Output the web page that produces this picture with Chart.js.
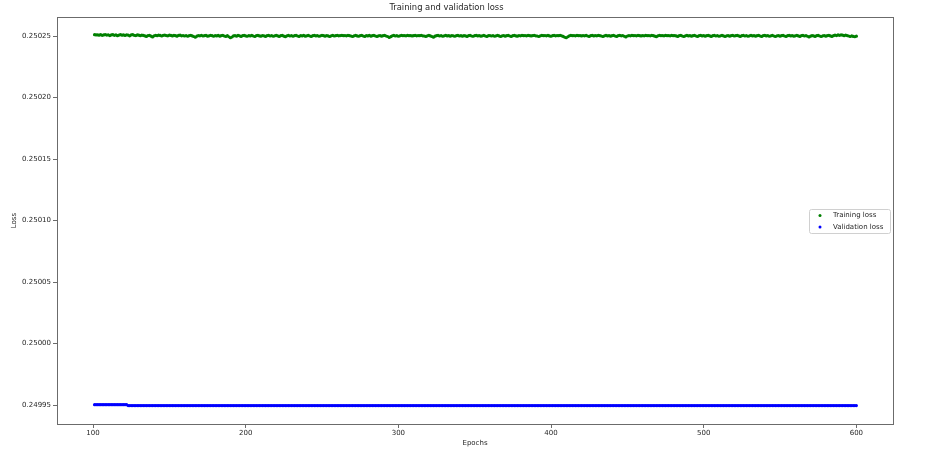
<!DOCTYPE html>
<html>
<head>
<meta charset="utf-8">
<title>Training and validation loss</title>
<script src="https://cdn.jsdelivr.net/npm/chart.js@4.4.1/dist/chart.umd.min.js"></script>
<style>
  html, body { margin: 0; padding: 0; background: #fff; }
  #wrap { width: 936px; height: 449px; }
</style>
</head>
<body>
<div id="wrap"><canvas id="chart" width="936" height="449"></canvas></div>
<script>
// Loss per epoch (epochs 101 .. 600)
const firstEpoch = 101;

const trainLoss = [
  0.2502511, 0.2502509, 0.2502510, 0.2502507, 0.2502511, 0.2502506, 0.2502509, 0.2502512, 0.2502508, 0.2502510, 0.2502504, 0.2502509, 0.2502511, 0.2502506, 0.2502510, 0.2502503, 0.2502508, 0.2502511, 0.2502507, 0.2502509,
  0.2502505, 0.2502510, 0.2502508, 0.2502502, 0.2502509, 0.2502511, 0.2502506, 0.2502504, 0.2502509, 0.2502507, 0.2502503, 0.2502508, 0.2502505, 0.2502501, 0.2502497, 0.2502504, 0.2502506, 0.2502499, 0.2502493, 0.2502502,
  0.2502506, 0.2502503, 0.2502507, 0.2502505, 0.2502500, 0.2502506, 0.2502508, 0.2502504, 0.2502502, 0.2502507, 0.2502505, 0.2502501, 0.2502506, 0.2502503, 0.2502499, 0.2502505, 0.2502507, 0.2502502, 0.2502504, 0.2502500,
  0.2502504, 0.2502498, 0.2502503, 0.2502506, 0.2502501, 0.2502496, 0.2502490, 0.2502499, 0.2502504, 0.2502502, 0.2502506, 0.2502500, 0.2502503, 0.2502505, 0.2502499, 0.2502502, 0.2502506, 0.2502503, 0.2502498, 0.2502504,
  0.2502501, 0.2502505, 0.2502499, 0.2502503, 0.2502506, 0.2502500, 0.2502497, 0.2502503, 0.2502494, 0.2502486, 0.2502492, 0.2502501, 0.2502504, 0.2502499, 0.2502505, 0.2502502, 0.2502497, 0.2502503, 0.2502506, 0.2502501,
  0.2502498, 0.2502504, 0.2502501, 0.2502505, 0.2502500, 0.2502496, 0.2502503, 0.2502506, 0.2502501, 0.2502499, 0.2502504, 0.2502502, 0.2502497, 0.2502503, 0.2502505, 0.2502500, 0.2502504, 0.2502498, 0.2502502, 0.2502506,
  0.2502501, 0.2502497, 0.2502503, 0.2502505, 0.2502499, 0.2502495, 0.2502502, 0.2502505, 0.2502500, 0.2502504, 0.2502498, 0.2502503, 0.2502506, 0.2502500, 0.2502497, 0.2502504, 0.2502501, 0.2502505, 0.2502499, 0.2502502,
  0.2502506, 0.2502500, 0.2502497, 0.2502503, 0.2502505, 0.2502501, 0.2502504, 0.2502498, 0.2502502, 0.2502506, 0.2502503, 0.2502499, 0.2502504, 0.2502501, 0.2502496, 0.2502502, 0.2502505, 0.2502500, 0.2502503, 0.2502506,
  0.2502502, 0.2502504, 0.2502505, 0.2502503, 0.2502504, 0.2502502, 0.2502505, 0.2502503, 0.2502500, 0.2502496, 0.2502502, 0.2502505, 0.2502501, 0.2502498, 0.2502503, 0.2502505, 0.2502500, 0.2502497, 0.2502503, 0.2502501,
  0.2502505, 0.2502499, 0.2502503, 0.2502506, 0.2502500, 0.2502497, 0.2502502, 0.2502504, 0.2502499, 0.2502503, 0.2502505, 0.2502500, 0.2502496, 0.2502488, 0.2502495, 0.2502502, 0.2502505, 0.2502500, 0.2502503, 0.2502498,
  0.2502502, 0.2502505, 0.2502503, 0.2502504, 0.2502502, 0.2502505, 0.2502503, 0.2502504, 0.2502501, 0.2502503, 0.2502505, 0.2502502, 0.2502504, 0.2502503, 0.2502505, 0.2502502, 0.2502500, 0.2502497, 0.2502502, 0.2502505,
  0.2502501, 0.2502496, 0.2502491, 0.2502499, 0.2502503, 0.2502505, 0.2502500, 0.2502504, 0.2502498, 0.2502502, 0.2502505, 0.2502501, 0.2502503, 0.2502499, 0.2502504, 0.2502502, 0.2502498, 0.2502503, 0.2502505, 0.2502500,
  0.2502503, 0.2502499, 0.2502504, 0.2502501, 0.2502497, 0.2502503, 0.2502505, 0.2502500, 0.2502498, 0.2502503, 0.2502505, 0.2502501, 0.2502504, 0.2502499, 0.2502502, 0.2502505, 0.2502500, 0.2502497, 0.2502503, 0.2502504,
  0.2502500, 0.2502504, 0.2502498, 0.2502502, 0.2502505, 0.2502501, 0.2502496, 0.2502502, 0.2502504, 0.2502499, 0.2502503, 0.2502505, 0.2502500, 0.2502497, 0.2502503, 0.2502505, 0.2502501, 0.2502499, 0.2502504, 0.2502502,
  0.2502505, 0.2502503, 0.2502504, 0.2502502, 0.2502505, 0.2502503, 0.2502501, 0.2502504, 0.2502505, 0.2502502, 0.2502500, 0.2502496, 0.2502502, 0.2502505, 0.2502503, 0.2502504, 0.2502502, 0.2502505, 0.2502501, 0.2502498,
  0.2502503, 0.2502505, 0.2502502, 0.2502504, 0.2502503, 0.2502505, 0.2502502, 0.2502497, 0.2502490, 0.2502486, 0.2502494, 0.2502502, 0.2502505, 0.2502503, 0.2502504, 0.2502502, 0.2502505, 0.2502503, 0.2502504, 0.2502501,
  0.2502504, 0.2502502, 0.2502505, 0.2502500, 0.2502497, 0.2502503, 0.2502505, 0.2502501, 0.2502504, 0.2502502, 0.2502505, 0.2502503, 0.2502500, 0.2502496, 0.2502502, 0.2502505, 0.2502501, 0.2502504, 0.2502499, 0.2502503,
  0.2502505, 0.2502500, 0.2502497, 0.2502503, 0.2502505, 0.2502502, 0.2502504, 0.2502498, 0.2502493, 0.2502500, 0.2502504, 0.2502502, 0.2502505, 0.2502503, 0.2502504, 0.2502502, 0.2502505, 0.2502503, 0.2502501, 0.2502504,
  0.2502502, 0.2502505, 0.2502503, 0.2502504, 0.2502502, 0.2502505, 0.2502503, 0.2502499, 0.2502495, 0.2502502, 0.2502505, 0.2502503, 0.2502504, 0.2502502, 0.2502505, 0.2502503, 0.2502504, 0.2502502, 0.2502505, 0.2502503,
  0.2502504, 0.2502501, 0.2502497, 0.2502503, 0.2502505, 0.2502500, 0.2502496, 0.2502502, 0.2502505, 0.2502501, 0.2502504, 0.2502499, 0.2502503, 0.2502505, 0.2502500, 0.2502497, 0.2502503, 0.2502505, 0.2502501, 0.2502504,
  0.2502499, 0.2502503, 0.2502505, 0.2502501, 0.2502497, 0.2502503, 0.2502505, 0.2502500, 0.2502504, 0.2502498, 0.2502502, 0.2502505, 0.2502501, 0.2502496, 0.2502502, 0.2502504, 0.2502499, 0.2502503, 0.2502505, 0.2502500,
  0.2502503, 0.2502505, 0.2502501, 0.2502497, 0.2502503, 0.2502505, 0.2502500, 0.2502504, 0.2502498, 0.2502502, 0.2502505, 0.2502501, 0.2502504, 0.2502499, 0.2502503, 0.2502505, 0.2502500, 0.2502497, 0.2502503, 0.2502505,
  0.2502501, 0.2502504, 0.2502498, 0.2502502, 0.2502505, 0.2502500, 0.2502496, 0.2502502, 0.2502504, 0.2502499, 0.2502503, 0.2502505, 0.2502500, 0.2502497, 0.2502503, 0.2502505, 0.2502501, 0.2502504, 0.2502499, 0.2502502,
  0.2502505, 0.2502501, 0.2502497, 0.2502503, 0.2502505, 0.2502500, 0.2502504, 0.2502498, 0.2502493, 0.2502499, 0.2502504, 0.2502501, 0.2502497, 0.2502503, 0.2502505, 0.2502500, 0.2502496, 0.2502502, 0.2502504, 0.2502499,
  0.2502503, 0.2502506, 0.2502501, 0.2502497, 0.2502503, 0.2502508, 0.2502504, 0.2502509, 0.2502506, 0.2502510, 0.2502507, 0.2502503, 0.2502508, 0.2502504, 0.2502500, 0.2502496, 0.2502502, 0.2502497, 0.2502494, 0.2502499
];

const valLoss = [
  0.2499503, 0.2499503, 0.2499503, 0.2499503, 0.2499503, 0.2499503, 0.2499503, 0.2499503, 0.2499503, 0.2499503, 0.2499503, 0.2499503, 0.2499503, 0.2499503, 0.2499503, 0.2499503, 0.2499503, 0.2499503, 0.2499503, 0.2499503,
  0.2499503, 0.2499503, 0.2499496, 0.2499496, 0.2499496, 0.2499496, 0.2499496, 0.2499496, 0.2499496, 0.2499496, 0.2499496, 0.2499496, 0.2499496, 0.2499496, 0.2499496, 0.2499496, 0.2499496, 0.2499496, 0.2499496, 0.2499496,
  0.2499496, 0.2499496, 0.2499496, 0.2499496, 0.2499496, 0.2499496, 0.2499496, 0.2499496, 0.2499496, 0.2499496, 0.2499496, 0.2499496, 0.2499496, 0.2499496, 0.2499496, 0.2499496, 0.2499496, 0.2499496, 0.2499496, 0.2499496,
  0.2499496, 0.2499496, 0.2499496, 0.2499496, 0.2499496, 0.2499496, 0.2499496, 0.2499496, 0.2499496, 0.2499496, 0.2499496, 0.2499496, 0.2499496, 0.2499496, 0.2499496, 0.2499496, 0.2499496, 0.2499496, 0.2499496, 0.2499496,
  0.2499496, 0.2499496, 0.2499496, 0.2499496, 0.2499496, 0.2499496, 0.2499496, 0.2499496, 0.2499496, 0.2499496, 0.2499496, 0.2499496, 0.2499496, 0.2499496, 0.2499496, 0.2499496, 0.2499496, 0.2499496, 0.2499496, 0.2499496,
  0.2499496, 0.2499496, 0.2499496, 0.2499496, 0.2499496, 0.2499496, 0.2499496, 0.2499496, 0.2499496, 0.2499496, 0.2499496, 0.2499496, 0.2499496, 0.2499496, 0.2499496, 0.2499496, 0.2499496, 0.2499496, 0.2499496, 0.2499496,
  0.2499496, 0.2499496, 0.2499496, 0.2499496, 0.2499496, 0.2499496, 0.2499496, 0.2499496, 0.2499496, 0.2499496, 0.2499496, 0.2499496, 0.2499496, 0.2499496, 0.2499496, 0.2499496, 0.2499496, 0.2499496, 0.2499496, 0.2499496,
  0.2499496, 0.2499496, 0.2499496, 0.2499496, 0.2499496, 0.2499496, 0.2499496, 0.2499496, 0.2499496, 0.2499496, 0.2499496, 0.2499496, 0.2499496, 0.2499496, 0.2499496, 0.2499496, 0.2499496, 0.2499496, 0.2499496, 0.2499496,
  0.2499496, 0.2499496, 0.2499496, 0.2499496, 0.2499496, 0.2499496, 0.2499496, 0.2499496, 0.2499496, 0.2499496, 0.2499496, 0.2499496, 0.2499496, 0.2499496, 0.2499496, 0.2499496, 0.2499496, 0.2499496, 0.2499496, 0.2499496,
  0.2499496, 0.2499496, 0.2499496, 0.2499496, 0.2499496, 0.2499496, 0.2499496, 0.2499496, 0.2499496, 0.2499496, 0.2499496, 0.2499496, 0.2499496, 0.2499496, 0.2499496, 0.2499496, 0.2499496, 0.2499496, 0.2499496, 0.2499496,
  0.2499496, 0.2499496, 0.2499496, 0.2499496, 0.2499496, 0.2499496, 0.2499496, 0.2499496, 0.2499496, 0.2499496, 0.2499496, 0.2499496, 0.2499496, 0.2499496, 0.2499496, 0.2499496, 0.2499496, 0.2499496, 0.2499496, 0.2499496,
  0.2499496, 0.2499496, 0.2499496, 0.2499496, 0.2499496, 0.2499496, 0.2499496, 0.2499496, 0.2499496, 0.2499496, 0.2499496, 0.2499496, 0.2499496, 0.2499496, 0.2499496, 0.2499496, 0.2499496, 0.2499496, 0.2499496, 0.2499496,
  0.2499496, 0.2499496, 0.2499496, 0.2499496, 0.2499496, 0.2499496, 0.2499496, 0.2499496, 0.2499496, 0.2499496, 0.2499496, 0.2499496, 0.2499496, 0.2499496, 0.2499496, 0.2499496, 0.2499496, 0.2499496, 0.2499496, 0.2499496,
  0.2499496, 0.2499496, 0.2499496, 0.2499496, 0.2499496, 0.2499496, 0.2499496, 0.2499496, 0.2499496, 0.2499496, 0.2499496, 0.2499496, 0.2499496, 0.2499496, 0.2499496, 0.2499496, 0.2499496, 0.2499496, 0.2499496, 0.2499496,
  0.2499496, 0.2499496, 0.2499496, 0.2499496, 0.2499496, 0.2499496, 0.2499496, 0.2499496, 0.2499496, 0.2499496, 0.2499496, 0.2499496, 0.2499496, 0.2499496, 0.2499496, 0.2499496, 0.2499496, 0.2499496, 0.2499496, 0.2499496,
  0.2499496, 0.2499496, 0.2499496, 0.2499496, 0.2499496, 0.2499496, 0.2499496, 0.2499496, 0.2499496, 0.2499496, 0.2499496, 0.2499496, 0.2499496, 0.2499496, 0.2499496, 0.2499496, 0.2499496, 0.2499496, 0.2499496, 0.2499496,
  0.2499496, 0.2499496, 0.2499496, 0.2499496, 0.2499496, 0.2499496, 0.2499496, 0.2499496, 0.2499496, 0.2499496, 0.2499496, 0.2499496, 0.2499496, 0.2499496, 0.2499496, 0.2499496, 0.2499496, 0.2499496, 0.2499496, 0.2499496,
  0.2499496, 0.2499496, 0.2499496, 0.2499496, 0.2499496, 0.2499496, 0.2499496, 0.2499496, 0.2499496, 0.2499496, 0.2499496, 0.2499496, 0.2499496, 0.2499496, 0.2499496, 0.2499496, 0.2499496, 0.2499496, 0.2499496, 0.2499496,
  0.2499496, 0.2499496, 0.2499496, 0.2499496, 0.2499496, 0.2499496, 0.2499496, 0.2499496, 0.2499496, 0.2499496, 0.2499496, 0.2499496, 0.2499496, 0.2499496, 0.2499496, 0.2499496, 0.2499496, 0.2499496, 0.2499496, 0.2499496,
  0.2499496, 0.2499496, 0.2499496, 0.2499496, 0.2499496, 0.2499496, 0.2499496, 0.2499496, 0.2499496, 0.2499496, 0.2499496, 0.2499496, 0.2499496, 0.2499496, 0.2499496, 0.2499496, 0.2499496, 0.2499496, 0.2499496, 0.2499496,
  0.2499496, 0.2499496, 0.2499496, 0.2499496, 0.2499496, 0.2499496, 0.2499496, 0.2499496, 0.2499496, 0.2499496, 0.2499496, 0.2499496, 0.2499496, 0.2499496, 0.2499496, 0.2499496, 0.2499496, 0.2499496, 0.2499496, 0.2499496,
  0.2499496, 0.2499496, 0.2499496, 0.2499496, 0.2499496, 0.2499496, 0.2499496, 0.2499496, 0.2499496, 0.2499496, 0.2499496, 0.2499496, 0.2499496, 0.2499496, 0.2499496, 0.2499496, 0.2499496, 0.2499496, 0.2499496, 0.2499496,
  0.2499496, 0.2499496, 0.2499496, 0.2499496, 0.2499496, 0.2499496, 0.2499496, 0.2499496, 0.2499496, 0.2499496, 0.2499496, 0.2499496, 0.2499496, 0.2499496, 0.2499496, 0.2499496, 0.2499496, 0.2499496, 0.2499496, 0.2499496,
  0.2499496, 0.2499496, 0.2499496, 0.2499496, 0.2499496, 0.2499496, 0.2499496, 0.2499496, 0.2499496, 0.2499496, 0.2499496, 0.2499496, 0.2499496, 0.2499496, 0.2499496, 0.2499496, 0.2499496, 0.2499496, 0.2499496, 0.2499496,
  0.2499496, 0.2499496, 0.2499496, 0.2499496, 0.2499496, 0.2499496, 0.2499496, 0.2499496, 0.2499496, 0.2499496, 0.2499496, 0.2499496, 0.2499496, 0.2499496, 0.2499496, 0.2499496, 0.2499496, 0.2499496, 0.2499496, 0.2499496
];

const xTicks = [100, 200, 300, 400, 500, 600];
const yTicks = [0.24995, 0.25000, 0.25005, 0.25010, 0.25015, 0.25020, 0.25025];

const seriesLabels = ["Training loss", "Validation loss"];
const seriesColors = ["#008000", "#0000ff"];

const FONT = "'DejaVu Sans', sans-serif";
const TEXT = "#262626";
const AXIS = "#6b6b6b";

// epoch index for every recorded value
const epochs = trainLoss.map((_, i) => firstEpoch + i);
const toPoints = (vals) => vals.map((v, i) => ({ x: epochs[i], y: v }));

// matplotlib-style box around the axes
const framePlugin = {
  id: "frame",
  afterDraw(chart) {
    const { ctx, chartArea: a } = chart;
    ctx.save();
    ctx.strokeStyle = AXIS;
    ctx.lineWidth = 1;
    ctx.strokeRect(Math.round(a.left) + 0.5, Math.round(a.top) + 0.5,
      Math.round(a.right - a.left), Math.round(a.bottom - a.top));
    ctx.restore();
  }
};

// legend box at centre right, like loc="best" put it
const legendPlugin = {
  id: "mplLegend",
  afterDraw(chart) {
    const { ctx, chartArea: a } = chart;
    const w = 81, h = 24;
    const x = a.right - 3 - w;
    const y = (a.top + a.bottom) / 2 - h / 2;
    ctx.save();
    ctx.fillStyle = "rgba(255,255,255,0.8)";
    ctx.strokeStyle = "#d0d0d0";
    ctx.lineWidth = 1;
    ctx.beginPath();
    ctx.roundRect(Math.round(x) + 0.5, Math.round(y) + 0.5, w, h, 2);
    ctx.fill();
    ctx.stroke();
    ctx.font = "7px " + FONT;
    ctx.textBaseline = "middle";
    chart.data.datasets.forEach((ds, i) => {
      const ry = y + 7 + i * 11.5;
      ctx.fillStyle = ds.backgroundColor;
      ctx.beginPath();
      ctx.arc(x + 11, ry, 1.5, 0, Math.PI * 2);
      ctx.fill();
      ctx.fillStyle = TEXT;
      ctx.fillText(ds.label, x + 24, ry);
    });
    ctx.restore();
  }
};

new Chart(document.getElementById("chart"), {
  type: "scatter",
  data: {
    datasets: [
      {
        label: seriesLabels[0],
        data: toPoints(trainLoss),
        backgroundColor: seriesColors[0],
        borderWidth: 0,
        pointRadius: 1.6,
        pointHoverRadius: 1.6
      },
      {
        label: seriesLabels[1],
        data: toPoints(valLoss),
        backgroundColor: seriesColors[1],
        borderWidth: 0,
        pointRadius: 1.6,
        pointHoverRadius: 1.6
      }
    ]
  },
  options: {
    responsive: false,
    animation: false,
    events: [],
    layout: { padding: { left: 0, right: 43, top: 0, bottom: 0 } },
    plugins: {
      legend: { display: false },
      tooltip: { enabled: false },
      title: {
        display: true,
        text: "Training and validation loss",
        color: TEXT,
        font: { family: FONT, size: 8.4, weight: "normal" },
        padding: { top: 3, bottom: 4 }
      }
    },
    scales: {
      x: {
        type: "linear",
        min: 76.4,
        max: 624,
        afterBuildTicks: (s) => { s.ticks = xTicks.map((v) => ({ value: v })); },
        afterFit: (s) => { s.height = 25; },
        grid: { drawOnChartArea: false, drawTicks: true, tickLength: 4, color: AXIS },
        border: { display: false },
        ticks: {
          color: TEXT,
          font: { family: FONT, size: 7 },
          padding: 1,
          maxRotation: 0,
          autoSkip: false,
          callback: (v) => String(v)
        },
        title: {
          display: true,
          text: "Epochs",
          color: TEXT,
          font: { family: FONT, size: 7 },
          padding: { top: 0, bottom: 2 }
        }
      },
      y: {
        min: 0.2499346,
        max: 0.2502654,
        afterBuildTicks: (s) => { s.ticks = yTicks.map((v) => ({ value: v })); },
        afterFit: (s) => { s.width = 57; },
        grid: { drawOnChartArea: false, drawTicks: true, tickLength: 4, color: AXIS },
        border: { display: false },
        ticks: {
          color: TEXT,
          font: { family: FONT, size: 7 },
          padding: 2,
          autoSkip: false,
          callback: (v) => v.toFixed(5)
        },
        title: {
          display: true,
          text: "Loss",
          color: TEXT,
          font: { family: FONT, size: 7 },
          padding: { top: 10, bottom: 0 }
        }
      }
    }
  },
  plugins: [framePlugin, legendPlugin]
});
</script>
</body>
</html>
